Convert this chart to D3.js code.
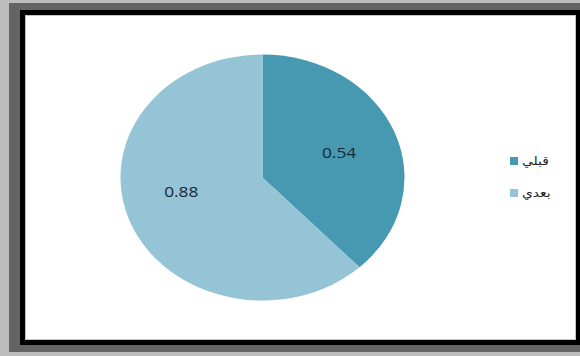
<!DOCTYPE html>
<html>
<head>
<meta charset="utf-8">
<script src="https://cdn.jsdelivr.net/npm/d3@7"></script>
<style>
  body { margin: 0; background: #bdbdbd; }
  svg { display: block; }
</style>
</head>
<body>
<div id="chart"></div>
<script>

var width = 580,
    height = 356;

// data
var categories = ["قبلي", "بعدي"];
var values = [0.54, 0.88];
var colors = ["#4699b0", "#94c4d6"];

var svg = d3.select("#chart").append("svg")
  .attr("width", width)
  .attr("height", height);

// frame
svg.append("rect").attr("x", 0).attr("y", 0).attr("width", width).attr("height", height).attr("fill", "#bdbdbd");
svg.append("rect").attr("x", 9).attr("y", 3).attr("width", 571).attr("height", 349).attr("fill", "#646464");
svg.append("rect").attr("x", 20).attr("y", 10).attr("width", 560).attr("height", 335).attr("fill", "#000");
svg.append("rect").attr("x", 25.5).attr("y", 15.5).attr("width", 550).attr("height", 324)
  .attr("fill", "#fff").attr("stroke", "#c4c4c4").attr("stroke-width", 1);

// the whole picture is a bit stretched sideways, pie and text alike
var cx = 262.5, cy = 177.5,
    ry = 123, rx = 142,
    sx = rx / ry;

var pie = d3.pie().sort(null).value(function(d){ return d; });
var arcs = pie(values);

var arc = d3.arc().innerRadius(0).outerRadius(ry);
var labelArc = d3.arc().innerRadius(ry * 0.58).outerRadius(ry * 0.58);

var g = svg.append("g")
  .attr("transform", "translate(" + cx + "," + cy + ") scale(" + sx + ",1)");

g.selectAll("path")
  .data(arcs)
  .enter().append("path")
  .attr("d", arc)
  .attr("fill", function(d, i){ return colors[i]; });

// small nudge on the labels so they sit where Excel put them
var labelShift = [[0, 1], [-4, -12]];

g.selectAll("text.val")
  .data(arcs)
  .enter().append("text")
  .attr("class", "val")
  .attr("x", function(d, i){ return labelArc.centroid(d)[0] + labelShift[i][0]; })
  .attr("y", function(d, i){ return labelArc.centroid(d)[1] + labelShift[i][1]; })
  .attr("text-anchor", "middle")
  .attr("dominant-baseline", "central")
  .attr("font-family", "'Open Sans', 'DejaVu Sans', sans-serif")
  .attr("font-size", 15)
  .attr("fill", "#1b2836")
  .text(function(d){ return d.data.toFixed(2); });

// legend
var legend = svg.append("g")
  .attr("transform", "translate(510,161)");

var item = legend.selectAll("g")
  .data(categories)
  .enter().append("g")
  .attr("transform", function(d, i){ return "translate(0," + (i * 32) + ")"; });

item.append("rect")
  .attr("x", 0).attr("y", -4)
  .attr("width", 8).attr("height", 8)
  .attr("fill", function(d, i){ return colors[i]; });

item.append("text")
  .attr("transform", "translate(12,0) scale(" + sx + ",1)")
  .attr("dominant-baseline", "central")
  .attr("font-family", "'DejaVu Sans', sans-serif")
  .attr("font-size", 12)
  .attr("fill", "#222")
  .text(function(d){ return d; });

</script>
</body>
</html>
